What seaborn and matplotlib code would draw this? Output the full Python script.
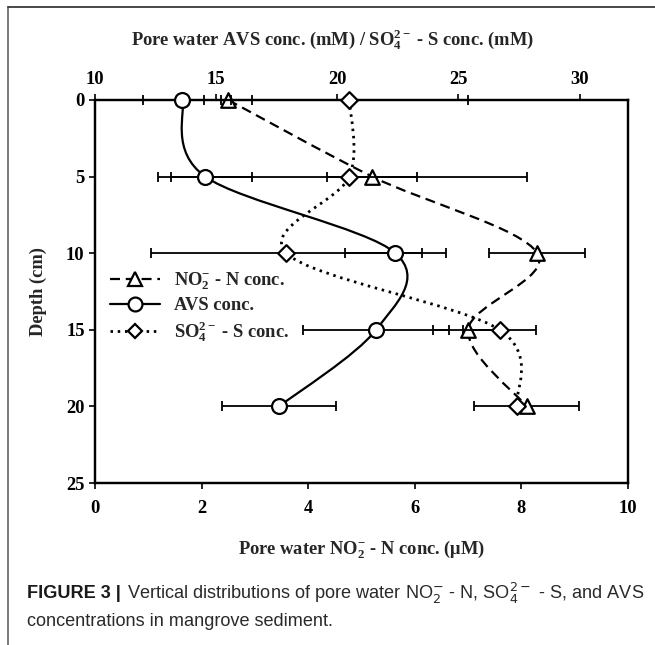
import numpy as np
import matplotlib
matplotlib.use("Agg")
import matplotlib.pyplot as plt
from matplotlib.path import Path
from matplotlib.patches import PathPatch
from matplotlib.lines import Line2D
import seaborn as sns

# ---------------- data ----------------
depth = [0, 5, 10, 15, 20]
no2 = [2.5, 5.2, 8.3, 7.0, 8.1]          # µM, bottom axis
no2_err = [0.45, 0.85, 0.9, 0.66, 0.98]
avs = [13.6, 14.55, 22.4, 21.6, 17.6]    # mM, top axis
avs_err = [1.6, 1.94, 2.1, 3.0, 2.36]
so4 = [20.5, 20.5, 17.9, 26.7, 27.4]     # mM, top axis
so4_err = [4.9, 7.35, 5.6, 1.5, 0.0]

bottom_ticks = [0, 2, 4, 6, 8, 10]
top_ticks = [10, 15, 20, 25, 30]
depth_ticks = [0, 5, 10, 15, 20, 25]

labels = [r"NO$_2^{-}$ - N conc.", "AVS conc.", r"SO$_4^{2-}$ - S conc."]

# ---------------- style ----------------
sns.set_style("ticks")
plt.rcParams["font.family"] = ["Liberation Serif", "DejaVu Serif"]
plt.rcParams["font.weight"] = "normal"
plt.rcParams["mathtext.fontset"] = "custom"
plt.rcParams["mathtext.rm"] = "Liberation Serif:bold"
plt.rcParams["mathtext.bf"] = "Liberation Serif:bold"
plt.rcParams["mathtext.it"] = "Liberation Serif:bold:italic"
plt.rcParams["mathtext.default"] = "rm"

FS = 13.3
W, H = 655, 645
fig = plt.figure(figsize=(W / 100, H / 100), dpi=100)
ax = fig.add_axes([95 / W, 1 - 483 / H, 533 / W, 383 / H])
ax2 = ax.twiny()

ax.set_xlim(0, 10)
ax.set_ylim(25, 0)
ax2.set_xlim(10, 32)
ax.set_xticks(bottom_ticks)
ax.set_yticks(depth_ticks)
ax2.set_xticks(top_ticks)

for a in (ax, ax2):
    for s in a.spines.values():
        s.set_linewidth(1.6)
        s.set_color("black")
    a.tick_params(direction="out", length=4, width=1.2, labelsize=FS, colors="black")
ax.tick_params(axis="x", pad=8)
ax2.tick_params(axis="x", pad=5)
for lbl in ax.get_xticklabels() + ax.get_yticklabels() + ax2.get_xticklabels():
    lbl.set_fontweight("bold")


def smooth_path(xs, ys):
    pts = np.column_stack([xs, ys]).astype(float)
    n = len(pts)
    verts = [pts[0]]
    codes = [Path.MOVETO]
    for i in range(n - 1):
        p0 = pts[i - 1] if i > 0 else pts[i]
        p1 = pts[i]
        p2 = pts[i + 1]
        p3 = pts[i + 2] if i + 2 < n else pts[i + 1]
        c1 = p1 + (p2 - p0) / 6.0
        c2 = p2 - (p3 - p1) / 6.0
        verts += [c1, c2, p2]
        codes += [Path.CURVE4] * 3
    return Path(verts, codes)


dash = (0, (4.5, 2.6))
dot = (0, (0.9, 1.7))

# curves
ax.add_patch(PathPatch(smooth_path(no2, depth), fill=False, lw=1.6, ls=dash, ec="black", zorder=2, clip_on=False))
ax2.add_patch(PathPatch(smooth_path(avs, depth), fill=False, lw=1.6, ls="-", ec="black", zorder=2, clip_on=False))
ax2.add_patch(PathPatch(smooth_path(so4, depth), fill=False, lw=2.0, ls=dot, ec="black", zorder=2, clip_on=False))

# error bars
eb = dict(fmt="none", ecolor="black", elinewidth=1.3, capsize=3.8, capthick=1.3, zorder=3)
for a, xv, xe in ((ax, no2, no2_err), (ax2, avs, avs_err), (ax2, so4, so4_err)):
    cont = a.errorbar(xv, depth, xerr=xe, **eb)
    for art in cont.get_children():
        art.set_clip_on(False)

# markers
sns.scatterplot(x=no2, y=depth, ax=ax, marker="^", s=110, color="white", edgecolor="black",
                linewidth=1.6, zorder=5, clip_on=False)
sns.scatterplot(x=avs, y=depth, ax=ax2, marker="o", s=115, color="white", edgecolor="black",
                linewidth=1.6, zorder=5, clip_on=False)
sns.scatterplot(x=so4, y=depth, ax=ax2, marker="D", s=72, color="white", edgecolor="black",
                linewidth=1.6, zorder=5, clip_on=False)
ax.set_ylim(25, 0)
ax.set_xlim(0, 10)
ax2.set_xlim(10, 32)

ax.set_ylabel("Depth (cm)", fontsize=FS, fontweight="bold", labelpad=14)
ax.set_xlabel(r"Pore water NO$_2^{-}$ - N conc. ($\mathrm{\mu}$M)", fontsize=FS, fontweight="bold", labelpad=15)
ax2.set_xlabel(r"Pore water AVS conc. (mM) / SO$_4^{2-}$ - S conc. (mM)", fontsize=FS, fontweight="bold")
ax2.xaxis.label.set_va("center")
ax2.xaxis.set_label_coords((332 - 95) / 533, (483 - 40) / 383)

# legend
handles = [
    Line2D([], [], color="black", lw=1.6, ls=dash, marker="^", ms=9.5, mfc="white", mec="black", mew=1.6),
    Line2D([], [], color="black", lw=1.6, ls="-", marker="o", ms=10, mfc="white", mec="black", mew=1.6),
    Line2D([], [], color="black", lw=2.0, ls=dot, marker="D", ms=7.5, mfc="white", mec="black", mew=1.6),
]
leg = fig.legend(handles, labels, loc="center left", bbox_to_anchor=(110 / W, 1 - 307 / H),
                 bbox_transform=fig.transFigure, frameon=False, prop={"size": FS, "weight": "bold"},
                 handlelength=2.7, handletextpad=0.75, labelspacing=0.28, borderpad=0, borderaxespad=0)

# figure frame
fig.add_artist(Line2D([8 / W, 8 / W], [0, 1 - 7 / H], transform=fig.transFigure, color="#6e6e6e", lw=1.3))
fig.add_artist(Line2D([8 / W, 1], [1 - 7 / H, 1 - 7 / H], transform=fig.transFigure, color="#3a3a3a", lw=1.3))

# caption
cap_font = ["Liberation Sans", "DejaVu Sans"]
CFS = 13.1
t1 = fig.text(27 / W, 1 - 593 / H, "FIGURE 3 |", family=cap_font, fontsize=CFS, fontweight="bold",
              color="#1a1a1a", va="center", ha="left")
fig.canvas.draw()
bb = t1.get_window_extent()
fig.text((bb.x1 + 6) / W, 1 - 593 / H,
         r"Vertical distributions of pore water NO$_2^{-}$ - N, SO$_4^{2-}$ - S, and AVS",
         family=cap_font, fontsize=CFS, fontweight="normal", color="#2a2a2a", va="center", ha="left",
         math_fontfamily="dejavusans")
fig.text(27 / W, 1 - 621 / H, "concentrations in mangrove sediment.", family=cap_font, fontsize=CFS,
         fontweight="normal", color="#2a2a2a", va="center", ha="left")

fig.savefig("out.png", dpi=100)
